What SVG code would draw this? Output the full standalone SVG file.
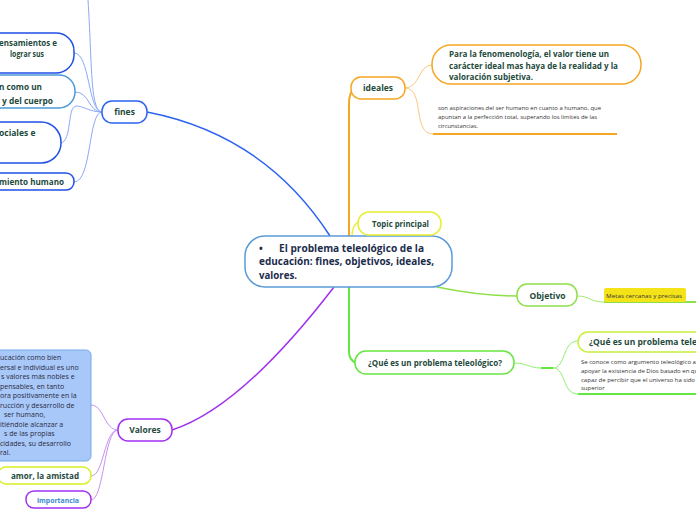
<svg xmlns="http://www.w3.org/2000/svg" width="696" height="520" viewBox="0 0 696 520">
<style>
text{font-family:"Open Sans","Noto Sans","DejaVu Sans",sans-serif}
.t{font-weight:bold;fill:#1e4a3c}
.n{fill:#ffffff}
.c{fill:none}
.s{font-size:6px;fill:#333333}
.m{font-size:10px;font-weight:bold;fill:#1c2c4c}
.v{font-size:7px;fill:#2a2a3a}
</style>
<rect width="696" height="520" fill="#ffffff"/>
<g id="connectors" class="c">
  <path d="M330,236 Q265,135 147,112" stroke="#2c64f0" stroke-width="1.5"/>
  <path d="M334,287 Q241,408 172,430" stroke="#a030f0" stroke-width="1.5"/>
  <path d="M349,236 L349,104 Q349,94 353,90" stroke="#f5a623" stroke-width="2"/>
  <path d="M352,236 Q352,226 358,222" stroke="#e8ee30" stroke-width="1.5"/>
  <path d="M349,287 L349,352 Q349,360 356,363" stroke="#66e640" stroke-width="2"/>
  <path d="M437,287 Q480,296 517,296" stroke="#8ee04a" stroke-width="1.5"/>
  <path d="M405,88 C420,88 418,65 432,65" stroke="#f8c880" stroke-width="1"/>
  <path d="M405,88 C425,88 412,134 433,134" stroke="#f8c880" stroke-width="1"/>
  <path d="M433,134 L617,134" stroke="#f5a623" stroke-width="2"/>
  <path d="M577,296 C590,296 590,302 604,302" stroke="#a8e870" stroke-width="1"/>
  <path d="M604,302 L696,302" stroke="#8ee04a" stroke-width="2"/>
  <path d="M514,363 C528,363 528,368 541,368" stroke="#8ef070" stroke-width="1"/>
  <path d="M541,368 L553,368" stroke="#66e640" stroke-width="2"/>
  <path d="M553,368 C566,368 562,341 578,341" stroke="#8ef070" stroke-width="1"/>
  <path d="M553,368 C566,368 562,394 578,394" stroke="#8ef070" stroke-width="1"/>
  <path d="M578,394 L696,394" stroke="#66e640" stroke-width="2"/>
  <path d="M102,112 C90,112 92,60 88,0" stroke="#8aaaf5" stroke-width="1"/>
  <path d="M102,112 C88,112 90,53 74,53" stroke="#8aaaf5" stroke-width="1"/>
  <path d="M102,112 C88,112 90,92 75,92" stroke="#8aaaf5" stroke-width="1"/>
  <path d="M102,112 C86,112 76,100 72,110 C68,122 70,140 61,143" stroke="#8aaaf5" stroke-width="1"/>
  <path d="M102,112 C88,112 92,182 74,182" stroke="#8aaaf5" stroke-width="1"/>
  <path d="M118,430 C104,430 104,405 91,405" stroke="#c890f0" stroke-width="1"/>
  <path d="M118,430 C104,430 104,476 91,476" stroke="#c890f0" stroke-width="1"/>
  <path d="M118,430 C104,430 104,500 91,500" stroke="#c890f0" stroke-width="1"/>
</g>
<g id="central">
  <rect x="245" y="236" width="207" height="51" rx="20" class="n" stroke="#5a9ad8" stroke-width="1.5"/>
  <text x="259" y="252" class="m">•</text>
  <text x="279" y="252" class="m" textLength="145" lengthAdjust="spacingAndGlyphs">El problema teleológico de la</text>
  <text x="259" y="265" class="m" textLength="175" lengthAdjust="spacingAndGlyphs">educación: fines, objetivos, ideales,</text>
  <text x="259" y="279" class="m" textLength="38" lengthAdjust="spacingAndGlyphs">valores.</text>
</g>
<g id="fines">
  <rect x="102" y="101" width="45" height="22" rx="10" class="n" stroke="#2c64f0" stroke-width="1.5"/>
  <text x="124.5" y="115" text-anchor="middle" class="t" style="font-size:8.5px">fines</text>
</g>
<g id="fines-1">
  <rect x="-30" y="33" width="104" height="40" rx="18" class="n" stroke="#2050e8" stroke-width="1.5"/>
  <text x="-1" y="46" class="t" style="font-size:8px" textLength="58" lengthAdjust="spacingAndGlyphs">ensamientos e</text>
  <text x="10" y="57" class="t" style="font-size:8px" textLength="34" lengthAdjust="spacingAndGlyphs">lograr sus</text>
</g>
<g id="fines-2">
  <rect x="-30" y="75" width="105" height="33" rx="16" class="n" stroke="#4a9ad8" stroke-width="1.5"/>
  <text x="-1" y="90" class="t" style="font-size:9px" textLength="43" lengthAdjust="spacingAndGlyphs">n como un</text>
  <text x="2" y="104" class="t" style="font-size:9px" textLength="51" lengthAdjust="spacingAndGlyphs">y del cuerpo</text>
</g>
<g id="fines-3">
  <rect x="-40" y="122" width="101" height="41" rx="20" class="n" stroke="#2050e8" stroke-width="1.5"/>
  <text x="-1" y="136" class="t" style="font-size:8.5px">ociales e</text>
</g>
<g id="fines-4">
  <rect x="-30" y="173" width="104" height="17" rx="8" class="n" stroke="#2050e8" stroke-width="1.5"/>
  <text x="-1" y="185" class="t" style="font-size:8px" textLength="65" lengthAdjust="spacingAndGlyphs">miento humano</text>
</g>
<g id="ideales">
  <rect x="351" y="77" width="54" height="22" rx="10" class="n" stroke="#f5a623" stroke-width="1.5"/>
  <text x="378" y="91" text-anchor="middle" class="t" style="font-size:8.5px">ideales</text>
</g>
<g id="fenomenologia">
  <rect x="432" y="45" width="209" height="39" rx="19" class="n" stroke="#f5a623" stroke-width="1.5"/>
  <text x="449" y="57" class="t" style="font-size:8.5px" textLength="160" lengthAdjust="spacingAndGlyphs">Para la fenomenología, el valor tiene un</text>
  <text x="449" y="69" class="t" style="font-size:8.5px" textLength="169" lengthAdjust="spacingAndGlyphs">carácter ideal mas haya de la realidad y la</text>
  <text x="449" y="80" class="t" style="font-size:8.5px" textLength="84" lengthAdjust="spacingAndGlyphs">valoración subjetiva.</text>
</g>
<g id="aspiraciones">
  <text x="438" y="110" class="s" textLength="163" lengthAdjust="spacingAndGlyphs">son aspiraciones del ser humano en cuanto a humano, que</text>
  <text x="438" y="119" class="s" textLength="159" lengthAdjust="spacingAndGlyphs">apuntan a la perfección total, superando los limites de las</text>
  <text x="438" y="128" class="s" textLength="40" lengthAdjust="spacingAndGlyphs">circunstancias.</text>
</g>
<g id="topic">
  <rect x="358" y="212" width="83" height="23" rx="11" class="n" stroke="#e8ee30" stroke-width="1.5"/>
  <text x="400.5" y="227" text-anchor="middle" class="t" style="font-size:8.5px" textLength="57" lengthAdjust="spacingAndGlyphs">Topic principal</text>
</g>
<g id="objetivo">
  <rect x="517" y="284" width="60" height="22" rx="10" class="n" stroke="#8ee04a" stroke-width="1.5"/>
  <text x="547.5" y="298.5" text-anchor="middle" class="t" style="font-size:8.5px">Objetivo</text>
</g>
<g id="metas">
  <rect x="604" y="288" width="82" height="14" rx="2" fill="#f5e31a"/>
  <text x="606" y="297.5" style="font-size:6px;fill:#333333" textLength="76" lengthAdjust="spacingAndGlyphs">Metas cercanas y precisas</text>
</g>
<g id="que-es">
  <rect x="355" y="351" width="159" height="23" rx="11" class="n" stroke="#66e640" stroke-width="1.5"/>
  <text x="368" y="366" class="t" style="font-size:8.5px" textLength="134" lengthAdjust="spacingAndGlyphs">¿Qué es un problema teleológico?</text>
</g>
<g id="que-es-2">
  <rect x="578" y="332" width="140" height="20" rx="10" class="n" stroke="#c8f03a" stroke-width="1.5"/>
  <text x="589" y="345" class="t" style="font-size:8.5px">¿Qué es un problema teleológico?</text>
</g>
<g id="argumento">
  <text x="581" y="364" class="s">Se conoce como argumento teleológico a</text>
  <text x="581" y="373" class="s">apoyar la existencia de Dios basado en qu</text>
  <text x="581" y="382" class="s">capaz de percibir que el universo ha sido</text>
  <text x="581" y="390" class="s">superior</text>
</g>
<g id="valores">
  <rect x="118" y="419" width="54" height="22" rx="10" class="n" stroke="#a030f0" stroke-width="1.5"/>
  <text x="145" y="433" text-anchor="middle" class="t" style="font-size:8.5px">Valores</text>
</g>
<g id="educacion">
  <rect x="-20" y="350" width="111" height="111" rx="5" fill="#a8c8fa" stroke="#7aaae8" stroke-width="1"/>
  <text x="0" y="360" class="v">ucación como bien</text>
  <text x="0" y="370" class="v">ersal e individual es uno</text>
  <text x="1" y="379" class="v">s valores más nobles e</text>
  <text x="0" y="389" class="v">pensables, en tanto</text>
  <text x="0" y="398" class="v">ora positivamente en la</text>
  <text x="0" y="408" class="v">rucción y desarrollo de</text>
  <text x="4" y="417" class="v">ser humano,</text>
  <text x="0" y="427" class="v">itiéndole alcanzar a</text>
  <text x="4" y="436" class="v">s de las propias</text>
  <text x="0" y="446" class="v">cidades, su desarrollo</text>
  <text x="0" y="455" class="v">ral.</text>
</g>
<g id="amor">
  <rect x="-2" y="467" width="93" height="17" rx="8" class="n" stroke="#d8f020" stroke-width="1.5"/>
  <text x="11" y="479" class="t" style="font-size:8.5px" textLength="68" lengthAdjust="spacingAndGlyphs">amor, la amistad</text>
</g>
<g id="importancia">
  <rect x="26" y="491" width="65" height="17" rx="8" class="n" stroke="#a030f0" stroke-width="1.5"/>
  <text x="37" y="502.5" style="font-size:7.5px;font-weight:bold;fill:#3a88d0" textLength="42" lengthAdjust="spacingAndGlyphs">importancia</text>
</g>
</svg>
